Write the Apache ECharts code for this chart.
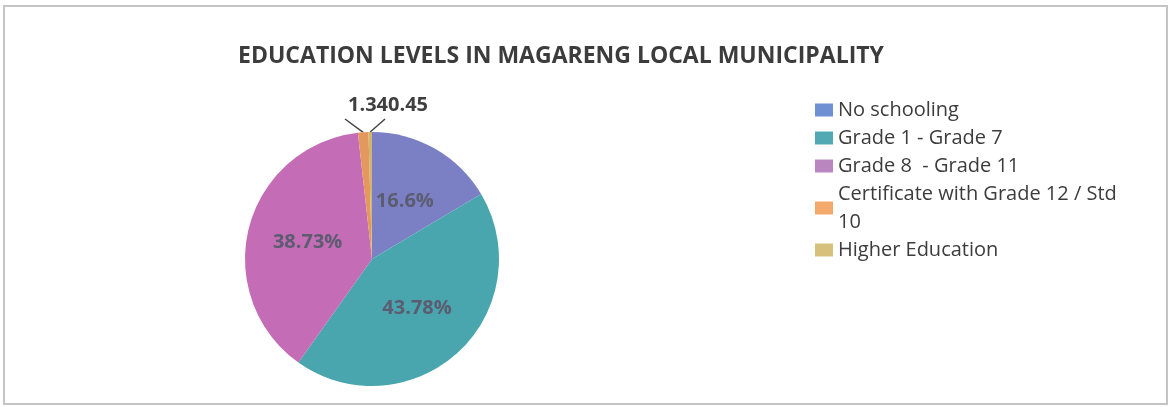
<!DOCTYPE html>
<html>
<head>
<meta charset="utf-8">
<script src="https://cdn.jsdelivr.net/npm/echarts@6/dist/echarts.min.js"></script>
<style>
  html, body { margin: 0; padding: 0; background: #fff; }
  #chart { width: 1168px; height: 407px; }
</style>
</head>
<body>
<div id="chart"></div>
<script>
// data
var categories = ['No schooling', 'Grade 1 - Grade 7', 'Grade 8  - Grade 11', 'Certificate with Grade 12 / Std 10', 'Higher Education'];
var shares = [16.6, 43.78, 38.73, 1.34, 0.45];
var sliceColors = ['#7b80c4', '#4aa6ae', '#c46cb6', '#e3995e', '#d2b46c'];
var legendColors = ['#7090d4', '#52a9b4', '#b986c0', '#f4a96c', '#d6c07c'];

var chart = echarts.init(document.getElementById('chart'));

var cx = 372, cy = 259, radius = 127;

var pieData = categories.map(function (name, i) {
  var small = shares[i] < 5;
  return {
    name: name,
    value: shares[i],
    itemStyle: { color: sliceColors[i] },
    label: small ? {
      position: 'outside',
      formatter: String(shares[i]),
      color: '#3f3f3f',
      fontSize: 20,
      fontWeight: 'bold'
    } : {
      position: 'inside',
      formatter: shares[i] + '%'
    },
    labelLine: { show: small, lineStyle: { color: '#444', width: 1.5 } }
  };
});

var option = {
  backgroundColor: '#fff',
  animation: false,
  title: {
    text: 'EDUCATION LEVELS IN MAGARENG LOCAL MUNICIPALITY',
    left: 556,
    textAlign: 'center',
    top: 40,
    textStyle: { fontFamily: 'Open Sans', fontSize: 23, fontWeight: 'bold', color: '#3c3c3c' }
  },
  legend: {
    orient: 'vertical',
    left: 810,
    top: 91,
    itemWidth: 18,
    itemHeight: 13,
    itemGap: 0,
    icon: 'rect',
    formatter: function (n) {
      return n === categories[3] ? 'Certificate with Grade 12 / Std\n10' : n;
    },
    textStyle: { fontFamily: 'Open Sans', fontSize: 20, lineHeight: 28, color: '#3c3c3c' },
    data: categories.map(function (n, i) {
      return { name: n, itemStyle: { color: legendColors[i] } };
    })
  },
  graphic: [{
    type: 'rect',
    shape: { x: 4, y: 6, width: 1163, height: 398 },
    style: { fill: 'none', stroke: '#c4c4c4', lineWidth: 2 },
    silent: true
  }],
  series: [{
    type: 'pie',
    center: [cx, cy],
    radius: radius,
    startAngle: 90,
    clockwise: true,
    avoidLabelOverlap: false,
    label: {
      fontFamily: 'Open Sans',
      fontSize: 20,
      fontWeight: 'bold',
      color: '#5c5c70'
    },
    labelLine: { length: 8, length2: 8 },
    labelLayout: function (p) {
      var pts = p.labelLinePoints;
      if (p.dataIndex === 3) {
        var end = pts ? pts[0] : [cx - 7, cy - radius];
        return {
          x: 388, y: 105, align: 'right', verticalAlign: 'middle',
          labelLinePoints: [[345, 119], end, end]
        };
      }
      if (p.dataIndex === 4) {
        var end2 = pts ? pts[0] : [cx - 2, cy - radius];
        return {
          x: 388, y: 105, align: 'left', verticalAlign: 'middle',
          labelLinePoints: [[385, 119], end2, end2]
        };
      }
    },
    data: pieData
  }]
};

chart.setOption(option);
</script>
</body>
</html>
